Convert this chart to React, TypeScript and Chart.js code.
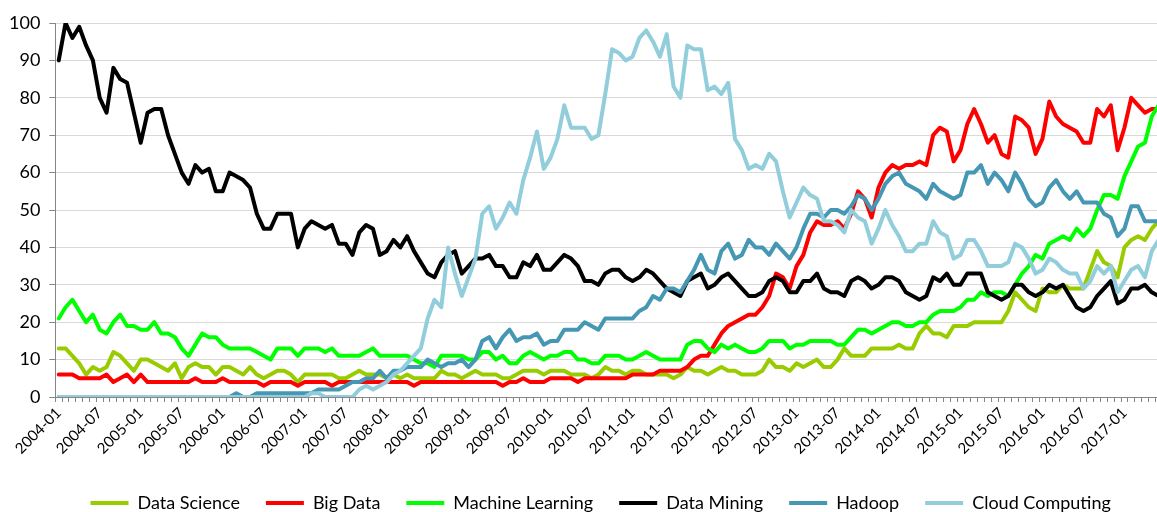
import React, { useEffect, useRef } from 'react';
import { Chart, registerables } from 'chart.js';
Chart.register(...registerables);

const years = ['2004', '2005', '2006', '2007', '2008', '2009', '2010', '2011', '2012', '2013', '2014', '2015', '2016', '2017'];
const months = ['01', '02', '03', '04', '05', '06', '07', '08', '09', '10', '11', '12'];
const monthCount = 162;
const categories: string[] = [];
for (const y of years) for (const m of months) if (categories.length < monthCount) categories.push(`${y}-${m}`);

const dataScience = [
  13, 13, 11, 9, 6, 8, 7, 8, 12, 11, 9, 7, 10, 10, 9, 8, 7, 9, 5, 8,
  9, 8, 8, 6, 8, 8, 7, 6, 8, 6, 5, 6, 7, 7, 6, 4, 6, 6, 6, 6,
  6, 5, 5, 6, 7, 6, 6, 6, 5, 6, 5, 6, 5, 5, 5, 5, 7, 6, 6, 5,
  6, 7, 6, 6, 6, 5, 5, 6, 7, 7, 7, 6, 7, 7, 7, 6, 6, 6, 5, 6,
  8, 7, 7, 6, 7, 7, 6, 6, 6, 6, 5, 6, 8, 7, 7, 6, 7, 8, 7, 7,
  6, 6, 6, 7, 10, 8, 8, 7, 9, 8, 9, 10, 8, 8, 10, 13, 11, 11, 11, 13,
  13, 13, 13, 14, 13, 13, 17, 19, 17, 17, 16, 19, 19, 19, 20, 20, 20, 20, 20, 23,
  28, 26, 24, 23, 29, 28, 28, 30, 29, 29, 29, 34, 39, 36, 35, 32, 40, 42, 43, 42,
  45, 47,
];
const bigData = [
  6, 6, 6, 5, 5, 5, 5, 6, 4, 5, 6, 4, 6, 4, 4, 4, 4, 4, 4, 4,
  5, 4, 4, 4, 5, 4, 4, 4, 4, 4, 3, 4, 4, 4, 4, 3, 4, 4, 4, 4,
  3, 4, 4, 4, 4, 4, 4, 4, 4, 4, 4, 4, 3, 4, 4, 4, 4, 4, 4, 4,
  4, 4, 4, 4, 4, 3, 4, 4, 5, 4, 4, 4, 5, 5, 5, 5, 4, 5, 5, 5,
  5, 5, 5, 5, 6, 6, 6, 6, 7, 7, 7, 7, 8, 10, 11, 11, 14, 17, 19, 20,
  21, 22, 22, 24, 27, 33, 32, 29, 35, 38, 44, 47, 46, 46, 47, 45, 49, 55, 53, 48,
  56, 60, 62, 61, 62, 62, 63, 62, 70, 72, 71, 63, 66, 73, 77, 73, 68, 70, 65, 64,
  75, 74, 72, 65, 69, 79, 75, 73, 72, 71, 68, 68, 77, 75, 78, 66, 72, 80, 78, 76,
  77, 77,
];
const machineLearning = [
  21, 24, 26, 23, 20, 22, 18, 17, 20, 22, 19, 19, 18, 18, 20, 17, 17, 16, 13, 11,
  14, 17, 16, 16, 14, 13, 13, 13, 13, 12, 11, 10, 13, 13, 13, 11, 13, 13, 13, 12,
  13, 11, 11, 11, 11, 12, 13, 11, 11, 11, 11, 11, 10, 9, 9, 8, 11, 11, 11, 11,
  10, 10, 12, 12, 10, 11, 9, 9, 11, 12, 11, 10, 11, 11, 12, 12, 10, 10, 9, 9,
  11, 11, 11, 10, 10, 11, 12, 11, 10, 10, 10, 10, 14, 15, 15, 13, 12, 14, 13, 14,
  13, 12, 12, 13, 15, 15, 15, 13, 14, 14, 15, 15, 15, 15, 14, 14, 16, 18, 18, 17,
  18, 19, 20, 20, 19, 19, 20, 20, 22, 23, 23, 23, 24, 26, 26, 28, 27, 28, 28, 27,
  30, 33, 35, 38, 37, 41, 42, 43, 42, 45, 43, 45, 50, 54, 54, 53, 59, 63, 67, 68,
  75, 78,
];
const dataMining = [
  90, 100, 96, 99, 94, 90, 80, 76, 88, 85, 84, 76, 68, 76, 77, 77, 70, 65, 60, 57,
  62, 60, 61, 55, 55, 60, 59, 58, 56, 49, 45, 45, 49, 49, 49, 40, 45, 47, 46, 45,
  46, 41, 41, 38, 44, 46, 45, 38, 39, 42, 40, 43, 39, 36, 33, 32, 36, 38, 39, 33,
  35, 37, 37, 38, 35, 35, 32, 32, 36, 35, 38, 34, 34, 36, 38, 37, 35, 31, 31, 30,
  33, 34, 34, 32, 31, 32, 34, 33, 31, 29, 28, 27, 31, 32, 33, 29, 30, 32, 33, 31,
  29, 27, 27, 28, 31, 32, 31, 28, 28, 31, 31, 33, 29, 28, 28, 27, 31, 32, 31, 29,
  30, 32, 32, 31, 28, 27, 26, 27, 32, 31, 33, 30, 30, 33, 33, 33, 28, 27, 26, 27,
  30, 30, 28, 27, 28, 30, 29, 30, 27, 24, 23, 24, 27, 29, 31, 25, 26, 29, 29, 30,
  28, 27,
];
const hadoop = [
  0, 0, 0, 0, 0, 0, 0, 0, 0, 0, 0, 0, 0, 0, 0, 0, 0, 0, 0, 0,
  0, 0, 0, 0, 0, 0, 1, 0, 0, 1, 1, 1, 1, 1, 1, 1, 1, 1, 2, 2,
  2, 2, 3, 4, 4, 5, 5, 7, 5, 7, 7, 8, 8, 8, 10, 9, 8, 9, 9, 10,
  8, 10, 15, 16, 13, 16, 18, 15, 16, 16, 17, 14, 15, 15, 18, 18, 18, 20, 19, 18,
  21, 21, 21, 21, 21, 23, 24, 27, 26, 29, 29, 28, 31, 34, 38, 34, 33, 39, 41, 37,
  38, 42, 40, 40, 38, 41, 39, 37, 40, 45, 49, 49, 48, 50, 50, 49, 51, 54, 53, 50,
  53, 57, 59, 60, 57, 56, 55, 53, 57, 55, 54, 53, 54, 60, 60, 62, 57, 60, 58, 55,
  60, 57, 53, 51, 52, 56, 58, 55, 53, 55, 52, 52, 52, 49, 48, 43, 45, 51, 51, 47,
  47, 47,
];
const cloudComputing = [
  0, 0, 0, 0, 0, 0, 0, 0, 0, 0, 0, 0, 0, 0, 0, 0, 0, 0, 0, 0,
  0, 0, 0, 0, 0, 0, 0, 0, 0, 0, 0, 0, 0, 0, 0, 0, 0, 1, 1, 0,
  0, 0, 0, 0, 2, 3, 2, 3, 4, 6, 7, 9, 11, 13, 21, 26, 24, 40, 33, 27,
  32, 37, 49, 51, 45, 48, 52, 49, 58, 64, 71, 61, 64, 69, 78, 72, 72, 72, 69, 70,
  81, 93, 92, 90, 91, 96, 98, 95, 91, 97, 83, 80, 94, 93, 93, 82, 83, 81, 84, 69,
  66, 61, 62, 61, 65, 63, 55, 48, 52, 56, 54, 53, 47, 47, 46, 44, 50, 48, 47, 41,
  45, 50, 46, 43, 39, 39, 41, 41, 47, 44, 43, 37, 38, 42, 42, 39, 35, 35, 35, 36,
  41, 40, 37, 33, 34, 37, 36, 34, 33, 33, 29, 31, 35, 33, 35, 28, 31, 34, 35, 32,
  39, 42,
];

const seriesNames = ['Data Science', 'Big Data', 'Machine Learning', 'Data Mining', 'Hadoop', 'Cloud Computing'];
const seriesColors = ['#99CC00', '#FF0000', '#00FF00', '#000000', '#4697B3', '#92CDDC'];
const seriesValues = [dataScience, bigData, machineLearning, dataMining, hadoop, cloudComputing];

const CANVAS_W = 1202;
const CANVAS_H = 512;

const legendShift = {
  id: 'legendShift',
  afterLayout(chart: any) {
    const l = chart.legend;
    if (l) {
      l.left -= 8;
      l.right -= 8;
    }
  },
};

export default function App() {
  const ref = useRef<HTMLCanvasElement | null>(null);
  useEffect(() => {
    if (!ref.current) return;
    Chart.defaults.font.family = 'Lato, "Liberation Sans", sans-serif';
    const chart = new Chart(ref.current, {
      type: 'line',
      data: {
        labels: categories,
        datasets: seriesNames.map((name, k) => ({
          label: name,
          data: seriesValues[k],
          borderColor: seriesColors[k],
          backgroundColor: seriesColors[k],
          borderWidth: 4,
          pointRadius: 0,
          pointHoverRadius: 0,
          tension: 0,
          fill: false,
          borderJoinStyle: 'round',
          borderCapStyle: 'round',
          order: seriesNames.length - 1 - k,
        })),
      },
      plugins: [legendShift],
      options: {
        responsive: false,
        animation: false,
        events: [],
        layout: { padding: { left: 0, right: 40, top: 23, bottom: -10 } },
        plugins: {
          tooltip: { enabled: false },
          legend: {
            position: 'bottom',
            fullSize: false,
            labels: {
              usePointStyle: true,
              pointStyle: 'line',
              pointStyleWidth: 38,
              color: '#000',
              font: { size: 18 },
              padding: 26,
              sort: (a: any, b: any) => a.datasetIndex - b.datasetIndex,
            },
          },
        },
        scales: {
          x: {
            type: 'category',
            offset: true,
            afterFit: (scale: any) => {
              scale.height = 71;
            },
            grid: {
              display: true,
              drawOnChartArea: false,
              drawTicks: true,
              tickLength: 5,
              offset: true,
              color: '#868686',
            },
            border: { display: true, color: '#868686', width: 1 },
            ticks: {
              autoSkip: false,
              maxRotation: 45,
              minRotation: 45,
              color: '#000',
              font: { size: 15 },
              padding: 2,
              callback: (_v: any, i: number) => (i % 6 === 0 ? categories[i] : ''),
            },
          },
          y: {
            min: 0,
            max: 100,
            ticks: { stepSize: 10, color: '#000', font: { size: 18 }, padding: 9 },
            grid: { color: '#d9d9d9', lineWidth: 1, tickColor: '#868686', tickLength: 6 },
            border: { display: true, color: '#868686', width: 1 },
          },
        },
      },
    });
    return () => chart.destroy();
  }, []);
  return (
    <div style={{ position: 'absolute', left: 0, top: 0, width: 1157, height: 512, overflow: 'hidden', background: '#fff' }}>
      <canvas ref={ref} width={CANVAS_W} height={CANVAS_H} style={{ display: 'block', width: CANVAS_W, height: CANVAS_H }} />
    </div>
  );
}
